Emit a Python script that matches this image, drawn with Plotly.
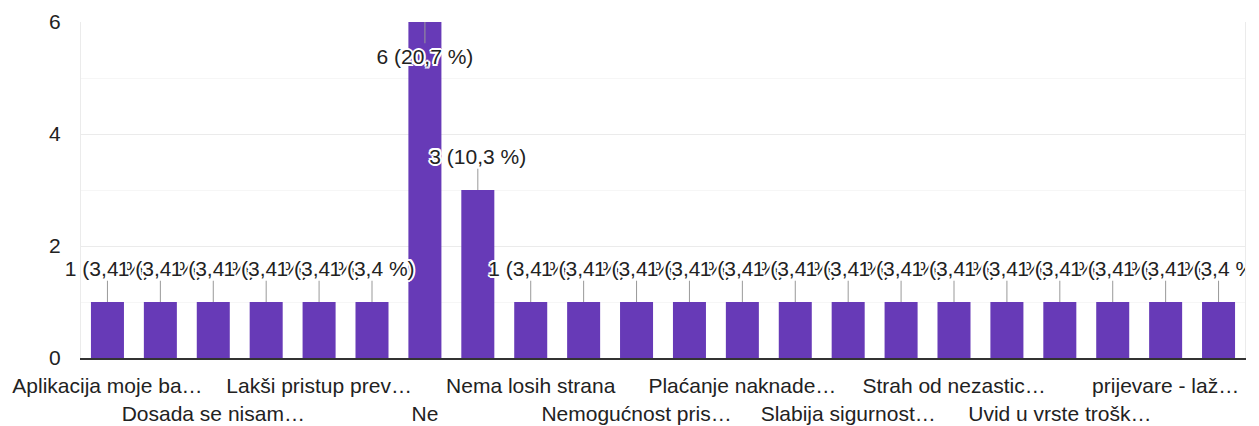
import plotly.graph_objects as go

# ---- data ----
counts = [1, 1, 1, 1, 1, 1, 6, 3, 1, 1, 1, 1, 1, 1, 1, 1, 1, 1, 1, 1, 1, 1]
tick_labels = [
    "Aplikacija moje ba…", "", "Dosada se nisam…", "", "Lakši pristup prev…", "",
    "Ne", "", "Nema losih strana", "", "Nemogućnost pris…", "",
    "Plaćanje naknade…", "", "Slabija sigurnost…", "", "Strah od nezastic…", "",
    "Uvid u vrste trošk…", "", "prijevare - laž…", "",
]
y_ticks = [0, 2, 4, 6]

# ---- derived ----
total = sum(counts)
n = len(counts)
xs = list(range(n))
vmax = max(counts)
label_text = [f"{v} ({v / total * 100:.1f} %)".replace(".", ",") for v in counts]

# alternate tick label rows
ticktext = []
k = 0
for t in tick_labels:
    if t:
        ticktext.append(t if k % 2 == 0 else "<br>" + t)
        k += 1
    else:
        ticktext.append("")

FONT = "Liberation Sans, Arial, sans-serif"
BAR = "#673ab7"
TXT = "#222222"

# label positions (data units relative to bar tops)
lab_y = [v - 0.66 if v == vmax else v + 0.56 for v in counts]
line_x, line_y = [], []
for x, v in zip(xs, counts):
    end = v - 0.38 if v == vmax else v + 0.38
    line_x += [x, x, None]
    line_y += [v, end, None]

halo = ("white 2px 0px 0px, white -2px 0px 0px, white 0px 2px 0px, white 0px -2px 0px, "
        "white 1.5px 1.5px 0px, white -1.5px -1.5px 0px, white 1.5px -1.5px 0px, white -1.5px 1.5px 0px")

fig = go.Figure()
fig.add_trace(go.Bar(
    x=xs, y=counts, marker=dict(color=BAR, line=dict(width=0)),
    hoverinfo="skip", showlegend=False,
))
fig.add_trace(go.Scatter(
    x=line_x, y=line_y, mode="lines",
    line=dict(color="#999999", width=1),
    hoverinfo="skip", showlegend=False,
))
fig.add_trace(go.Scatter(
    x=xs, y=lab_y, mode="text", text=label_text,
    textposition="middle center",
    textfont=dict(family=FONT, size=21, color=TXT, shadow=halo),
    cliponaxis=False, hoverinfo="skip", showlegend=False,
))

# white mask to the right of the plot area (labels are cut at the chart edge)
fig.add_shape(
    type="rect", xref="paper", yref="paper", layer="above",
    xsizemode="pixel", xanchor=1, x0=1, x1=40, y0=0.02, y1=1.05,
    fillcolor="white", line=dict(width=0),
)

fig.update_layout(
    width=1259, height=426,
    margin=dict(l=81, r=14, t=22, b=68, autoexpand=False),
    paper_bgcolor="white", plot_bgcolor="white",
    bargap=0.376,
    font=dict(family=FONT, size=21, color=TXT),
)
fig.update_xaxes(
    range=[-0.5, n - 0.5], automargin=False,
    tickmode="array", tickvals=xs, ticktext=ticktext, tickangle=0,
    showgrid=False, zeroline=False,
    showline=True, linecolor="#333333", linewidth=2,
    ticks="", ticklabelstandoff=8,
    tickfont=dict(family=FONT, size=21, color=TXT),
)
fig.update_yaxes(
    range=[0, 6], tickmode="array", tickvals=y_ticks, automargin=False,
    showgrid=True, gridcolor="#ebebeb", gridwidth=1,
    minor=dict(dtick=1, showgrid=True, gridcolor="#f6f6f6", gridwidth=1),
    zeroline=False,
    showline=True, mirror=True, linecolor="#ebebeb", linewidth=1,
    ticks="", ticklabelstandoff=15,
    tickfont=dict(family=FONT, size=21, color=TXT),
)

fig.write_html(
    "out.html",
    config={"displayModeBar": False},
    post_script="document.body.style.margin='0';document.body.style.padding='0';",
)
